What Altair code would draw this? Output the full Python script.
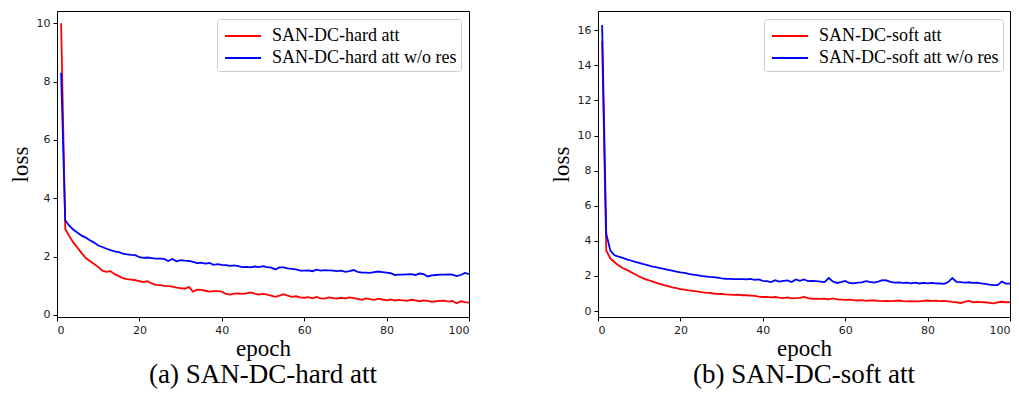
import altair as alt
import pandas as pd

epochs = list(range(1, 101))

hard_att = [
    10.0, 2.95, 2.70, 2.48, 2.30, 2.12, 1.95, 1.85, 1.75, 1.65,
    1.52, 1.48, 1.50, 1.40, 1.33, 1.26, 1.23, 1.21, 1.19, 1.16,
    1.13, 1.16, 1.08, 1.03, 1.02, 1.00, 0.99, 0.97, 0.94, 0.92,
    0.90, 0.96, 0.80, 0.87, 0.86, 0.83, 0.80, 0.82, 0.82, 0.80,
    0.72, 0.70, 0.73, 0.74, 0.72, 0.74, 0.77, 0.73, 0.70, 0.72,
    0.70, 0.66, 0.62, 0.66, 0.71, 0.66, 0.62, 0.64, 0.60, 0.59,
    0.61, 0.57, 0.62, 0.57, 0.56, 0.60, 0.58, 0.56, 0.59, 0.57,
    0.60, 0.58, 0.55, 0.52, 0.57, 0.54, 0.52, 0.56, 0.53, 0.50,
    0.53, 0.49, 0.52, 0.50, 0.48, 0.52, 0.50, 0.47, 0.50, 0.48,
    0.45, 0.47, 0.48, 0.49, 0.46, 0.48, 0.40, 0.47, 0.44, 0.42,
]
hard_att_nores = [
    8.3, 3.25, 3.05, 2.92, 2.82, 2.72, 2.65, 2.56, 2.48, 2.38,
    2.33, 2.27, 2.22, 2.18, 2.15, 2.10, 2.08, 2.06, 2.05, 1.98,
    1.96, 1.97, 1.95, 1.93, 1.93, 1.92, 1.85, 1.92, 1.84, 1.88,
    1.86, 1.85, 1.82, 1.78, 1.79, 1.76, 1.78, 1.72, 1.74, 1.72,
    1.71, 1.68, 1.70, 1.67, 1.64, 1.65, 1.63, 1.66, 1.64, 1.67,
    1.64, 1.62, 1.56, 1.63, 1.63, 1.60, 1.58, 1.56, 1.52, 1.52,
    1.53, 1.50, 1.55, 1.52, 1.54, 1.53, 1.52, 1.50, 1.52, 1.48,
    1.50, 1.54, 1.48, 1.45, 1.45, 1.44, 1.47, 1.49, 1.47, 1.45,
    1.43, 1.37, 1.38, 1.38, 1.39, 1.40, 1.37, 1.42, 1.40, 1.32,
    1.36, 1.37, 1.38, 1.38, 1.39, 1.38, 1.33, 1.37, 1.44, 1.40,
]
soft_att = [
    15.4, 3.45, 3.00, 2.78, 2.60, 2.45, 2.35, 2.22, 2.10, 1.97,
    1.86, 1.78, 1.70, 1.62, 1.55, 1.48, 1.42, 1.35, 1.30, 1.25,
    1.22, 1.18, 1.15, 1.12, 1.08, 1.05, 1.04, 1.00, 0.98, 0.97,
    0.95, 0.94, 0.92, 0.93, 0.90, 0.90, 0.88, 0.86, 0.82, 0.80,
    0.80, 0.78, 0.80, 0.76, 0.74, 0.78, 0.72, 0.73, 0.75, 0.80,
    0.74, 0.70, 0.70, 0.69, 0.70, 0.67, 0.72, 0.66, 0.65, 0.64,
    0.65, 0.62, 0.60, 0.62, 0.58, 0.60, 0.61, 0.58, 0.57, 0.58,
    0.56, 0.58, 0.60, 0.56, 0.55, 0.57, 0.55, 0.55, 0.58, 0.60,
    0.58, 0.59, 0.57, 0.58, 0.55, 0.52, 0.50, 0.46, 0.52, 0.58,
    0.50, 0.52, 0.51, 0.50, 0.47, 0.44, 0.50, 0.53, 0.50, 0.51,
]
soft_att_nores = [
    16.3, 4.40, 3.45, 3.18, 3.10, 3.03, 2.95, 2.88, 2.80, 2.75,
    2.68, 2.62, 2.55, 2.50, 2.45, 2.40, 2.35, 2.30, 2.25, 2.20,
    2.18, 2.12, 2.08, 2.05, 2.00, 1.98, 1.95, 1.93, 1.90, 1.86,
    1.84, 1.83, 1.82, 1.82, 1.82, 1.81, 1.83, 1.78, 1.80, 1.72,
    1.70, 1.65, 1.76, 1.68, 1.72, 1.75, 1.65, 1.80, 1.72, 1.80,
    1.70, 1.72, 1.70, 1.68, 1.65, 1.88, 1.68, 1.60, 1.65, 1.72,
    1.60, 1.58, 1.62, 1.63, 1.70, 1.66, 1.62, 1.68, 1.76, 1.74,
    1.66, 1.62, 1.63, 1.60, 1.62, 1.58, 1.62, 1.57, 1.60, 1.58,
    1.60, 1.58, 1.57, 1.55, 1.65, 1.88, 1.66, 1.65, 1.62, 1.64,
    1.60, 1.62, 1.58, 1.55, 1.50, 1.48, 1.48, 1.68, 1.56, 1.56,
]

series_left = ["SAN-DC-hard att", "SAN-DC-hard att w/o res"]
series_right = ["SAN-DC-soft att", "SAN-DC-soft att w/o res"]
captions = ["(a) SAN-DC-hard att", "(b) SAN-DC-soft att"]
line_colors = ["#ff0000", "#0000ff"]
x_ticks = [0, 20, 40, 60, 80, 100]
y_ticks_left = [0, 2, 4, 6, 8, 10]
y_ticks_right = [0, 2, 4, 6, 8, 10, 12, 14, 16]

SERIF = "Liberation Serif"
SANS = "DejaVu Sans"


def make_df(names, a, b):
    return pd.DataFrame({
        "epoch": epochs * 2,
        "loss": a + b,
        "series": [names[0]] * len(a) + [names[1]] * len(b),
    })


def panel(df, names, ydomain, yticks, caption, lx):
    return alt.Chart(df).mark_line(strokeWidth=1.8, clip=True).encode(
        x=alt.X("epoch:Q",
                scale=alt.Scale(domain=[0, 100], nice=False, zero=False),
                axis=alt.Axis(values=x_ticks, title="epoch", format="d")),
        y=alt.Y("loss:Q",
                scale=alt.Scale(domain=ydomain, nice=False, zero=False),
                axis=alt.Axis(values=yticks, title="loss", format="d")),
        color=alt.Color("series:N",
                        scale=alt.Scale(domain=names, range=line_colors),
                        sort=names,
                        legend=alt.Legend(
                            orient="none", legendX=lx, legendY=8,
                            title=None,
                            symbolType="M-1,0H2",
                            symbolSize=576,
                            symbolStrokeWidth=2,
                            symbolOffset=3,
                            labelOffset=22,
                            labelFont=SERIF, labelFontSize=18,
                            labelColor="#000000",
                            labelLimit=400,
                            padding=4,
                            rowPadding=0,
                            strokeColor="#cccccc",
                            fillColor="#ffffff",
                            cornerRadius=3,
                        )),
    ).properties(
        width=412, height=306,
        title=alt.TitleParams(caption, orient="bottom", font=SERIF,
                              fontSize=27, fontWeight="normal",
                              color="#000000", offset=2, anchor="middle"),
    )


left = panel(make_df(series_left, hard_att, hard_att_nores), series_left,
             [-0.07, 10.42], y_ticks_left, captions[0], 160)
right = panel(make_df(series_right, soft_att, soft_att_nores), series_right,
              [-0.34, 17.1], y_ticks_right, captions[1], 166)

chart = alt.hconcat(left, right, spacing=79).resolve_scale(
    color="independent", y="independent"
).resolve_legend(color="independent").properties(
    padding={"left": 0, "top": 2, "right": 0, "bottom": 0}
).configure_view(
    stroke="#000000", strokeWidth=1
).configure_axis(
    domain=False, grid=False,
    tickColor="#000000", tickSize=4, tickWidth=1,
    labelFont=SANS, labelFontSize=11, labelColor="#222222", labelPadding=3,
    titleFont=SERIF, titleFontSize=23, titleFontWeight="normal",
    titleColor="#000000",
).configure_axisY(titlePadding=4).configure_axisX(titlePadding=2)

chart.save("out.html", embed_options={"renderer": "svg", "actions": False})
